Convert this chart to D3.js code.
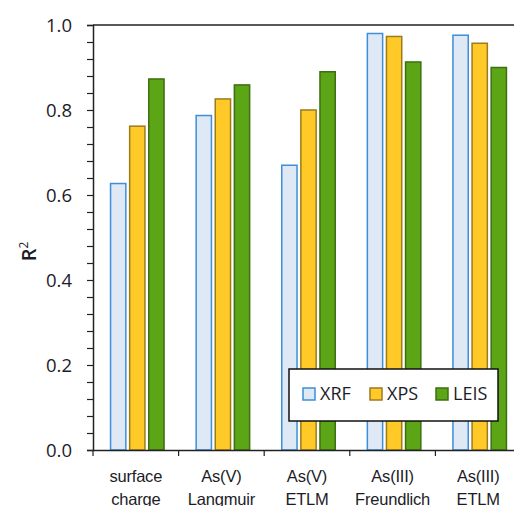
<!DOCTYPE html>
<html>
<head>
<meta charset="utf-8">
<script src="https://cdn.jsdelivr.net/npm/d3@7"></script>
<style>
	body{margin:0;background:#fff;}
	svg{display:block;font-family:'Open Sans',sans-serif;}
	text{fill:#1c1c28;}
</style>
</head>
<body>
<svg id="vis" width="514" height="506"></svg>
<script>
// categories, two-line labels
var categories = ['sc','avl','ave','aif','aie'];
var catLabels = [['surface','charge'],['As(V)','Langmuir'],['As(V)','ETLM'],['As(III)','Freundlich'],['As(III)','ETLM']];
var series = ['XRF','XPS','LEIS'];
var xrf  = [0.627,0.787,0.670,0.980,0.976];
var xps  = [0.762,0.826,0.800,0.973,0.957];
var leis = [0.873,0.859,0.890,0.913,0.900];
var yTicks = [0,0.2,0.4,0.6,0.8,1.0];
var fills   = ['#dfe8f5','#ffca28','#5ba516'];
var strokes = ['#3c8fd8','#9c7b1e','#3e6f10'];

var chart = {
	m:{top:25,left:93,bottom:56},
	w:514, h:506,
	plotW:428,

	draw:function(){
		var self = this,
			svg = d3.select('#vis'),
			vals = [xrf,xps,leis],
			ph = self.h -self.m.top -self.m.bottom;

		var y = d3.scaleLinear().domain([0,1]).range([ph,0]);
		var x0 = d3.scaleBand().domain(categories).range([0,self.plotW]);
		var bw = x0.bandwidth();
		var x1 = d3.scaleBand().domain(series).range([bw*0.205,bw*0.83]).paddingInner(0.2);

		var g = svg.append('g')
			.attr('transform','translate(' +self.m.left +',' +self.m.top +')');

		// top border
		g.append('line')
			.attr('x1',0).attr('x2',self.plotW)
			.attr('y1',0).attr('y2',0)
			.attr('stroke','#222').attr('stroke-width',1.5);

		// bars
		var groups = g.selectAll('g.cat')
			.data(categories)
			.enter().append('g')
			.classed('cat',true)
			.attr('transform',function(d){ return 'translate(' +x0(d) +',0)'; });
		groups.selectAll('rect')
			.data(function(d,i){
				return series.map(function(s,j){ return {s:s,j:j,v:vals[j][i]}; });
			})
			.enter().append('rect')
			.attr('x',function(d){ return x1(d.s); })
			.attr('y',function(d){ return y(d.v); })
			.attr('width',x1.bandwidth())
			.attr('height',function(d){ return ph -y(d.v); })
			.attr('fill',function(d){ return fills[d.j]; })
			.attr('stroke',function(d){ return strokes[d.j]; })
			.attr('stroke-width',1.5);

		// y axis
		var yAxis = g.append('g')
			.call(d3.axisLeft(y).tickValues(d3.range(0,1.0001,0.04)).tickSize(6).tickFormat(''));
		yAxis.select('.domain').attr('stroke','#222').attr('stroke-width',1.5);
		yAxis.selectAll('.tick line').attr('stroke','#222').attr('stroke-width',1.2);
		g.selectAll('text.ytl')
			.data(yTicks)
			.enter().append('text')
			.classed('ytl',true)
			.attr('x',-21)
			.attr('y',function(d){ return y(d); })
			.attr('dy','0.36em')
			.attr('text-anchor','end')
			.style('font-size','18.5px')
			.text(function(d){ return d3.format('.1f')(d); });

		// x axis
		var xAxis = g.append('g')
			.attr('transform','translate(0,' +ph +')')
			.call(d3.axisBottom(x0).tickValues([]).tickSizeOuter(0));
		xAxis.select('.domain').attr('stroke','#222').attr('stroke-width',1.5);
		xAxis.selectAll('line.sep')
			.data(categories)
			.enter().append('line')
			.classed('sep',true)
			.attr('x1',function(d){ return x0(d); })
			.attr('x2',function(d){ return x0(d); })
			.attr('y1',0).attr('y2',6)
			.attr('stroke','#222').attr('stroke-width',1.2);
		xAxis.selectAll('text.xl')
			.data(categories)
			.enter().append('text')
			.classed('xl',true)
			.attr('x',function(d){ return x0(d) +bw/2; })
			.attr('y',32)
			.attr('text-anchor','middle')
			.style('font-size','16.5px')
			.style('letter-spacing','-0.2px')
			.each(function(d,i){
				var t = d3.select(this);
				catLabels[i].forEach(function(l,k){
					t.append('tspan')
						.attr('x',x0(d) +bw/2)
						.attr('dy',k ? 23 : 0)
						.text(l);
				});
			});

		// y label
		var yl = svg.append('text')
			.attr('transform','translate(36,' +(self.m.top +ph/2 +14) +') rotate(-90)')
			.attr('text-anchor','middle')
			.style('font-size','20px')
			.style('font-weight','600');
		yl.append('tspan').text('R');
		yl.append('tspan').attr('dy',-8).style('font-size','12px').style('font-weight','400').text('2');

		// legend
		var lg = svg.append('g').attr('transform','translate(289,369)');
		lg.append('rect')
			.attr('width',209).attr('height',52)
			.attr('fill','#fff').attr('stroke','#111').attr('stroke-width',1.5);
		var lx = [14,81,147];
		var items = lg.selectAll('g.li')
			.data(series)
			.enter().append('g')
			.classed('li',true)
			.attr('transform',function(d,i){ return 'translate(' +lx[i] +',19)'; });
		items.append('rect')
			.attr('width',12).attr('height',12)
			.attr('fill',function(d,i){ return fills[i]; })
			.attr('stroke',function(d,i){ return strokes[i]; })
			.attr('stroke-width',1.5);
		items.append('text')
			.attr('x',17).attr('y',6)
			.attr('dy','0.36em')
			.style('font-size','18px')
			.text(function(d){ return d; });
	}
};
chart.draw();
</script>
</body>
</html>
